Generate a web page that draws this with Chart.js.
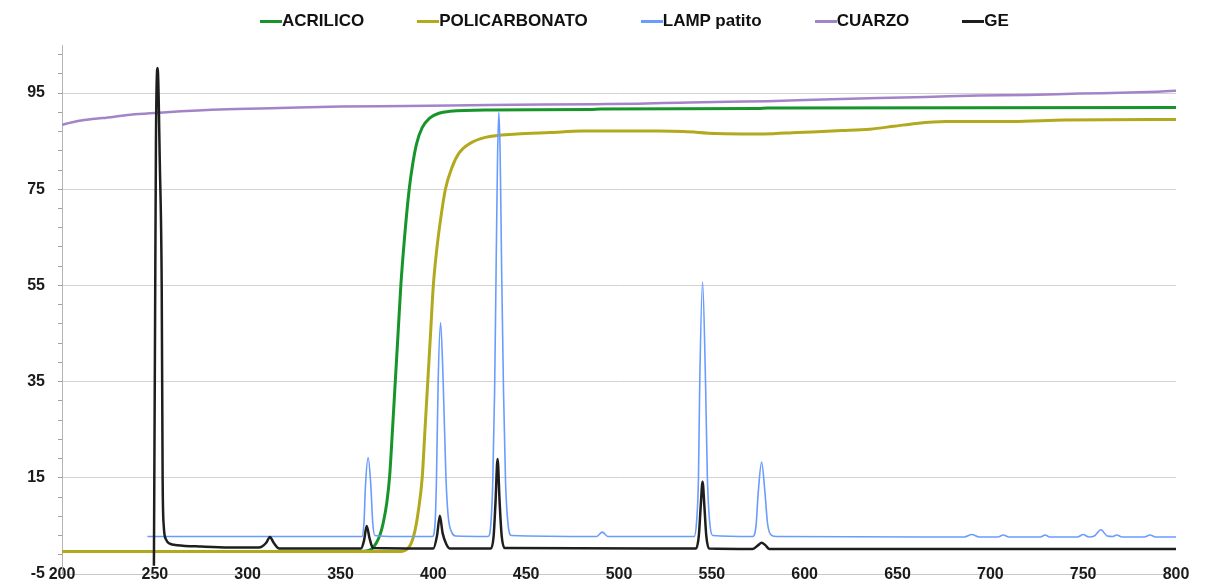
<!DOCTYPE html>
<html>
<head>
<meta charset="utf-8">
<title>Transmitancia</title>
<script src="https://cdn.jsdelivr.net/npm/chart.js@4.4.1/dist/chart.umd.min.js"></script>
<style>
  html, body { margin: 0; padding: 0; background: #fff; }
  #wrap { position: relative; width: 1210px; height: 587px; }
  #legend {
    position: absolute; left: 260px; top: 11px;
    display: flex; gap: 53px;
    font: bold 17px "Liberation Sans", Arial, sans-serif; color: #111;
  }
  .item { display: flex; align-items: center; }
  .swatch { width: 22px; height: 3px; }
</style>
</head>
<body>
<div id="wrap">
  <canvas id="chart"></canvas>
  <div id="legend"></div>
</div>
<script>
// ---- datos ----
const SERIES_NAMES = ["ACRILICO", "POLICARBONATO", "LAMP patito", "CUARZO", "GE"];
const SERIES_COLORS = ["#17952a", "#b2a91f", "#6a9cff", "#a484c8", "#1e1e1e"];

const Y_LABELS = [-5, 15, 35, 55, 75, 95];
const X_STEP = 50;

const ACRILICO_X = [200, 300, 360, 364, 367, 369.5, 371.5, 373, 375, 376.5, 378, 379.5, 381, 382.5, 384.5, 387, 389, 391, 394, 398, 403, 409, 430, 485, 490, 575, 580, 800];
const ACRILICO_Y = [-0.3, -0.3, -0.3, -0.2, 0.3, 1.6, 3.4, 5.6, 10, 15.5, 25, 35, 45, 55, 65, 75, 80.5, 84.5, 87.8, 89.8, 90.8, 91.2, 91.5, 91.6, 91.7, 91.8, 91.9, 92.0];

const POLI_X = [200, 300, 383, 386, 388, 390, 392, 394, 395.5, 397, 398.5, 400, 402, 404, 406.5, 410, 414, 420, 428, 445, 463, 480, 522, 535, 552, 578, 596, 620, 635, 648, 660, 676, 712, 740, 800];
const POLI_Y = [-0.3, -0.3, -0.3, 0.2, 1.3, 3.8, 8.3, 15, 25, 35, 45, 55, 63, 69, 75, 79.5, 82.6, 84.6, 85.8, 86.5, 86.8, 87.1, 87.1, 87.0, 86.6, 86.5, 86.8, 87.2, 87.5, 88.1, 88.7, 89.1, 89.1, 89.4, 89.5];

const LAMP_X = [246, 300, 350, 361.5, 362.7, 363.4, 364.9, 366.4, 367.3, 368.5, 380, 399.5, 401, 401.7, 402.6, 403.9, 405.3, 406.8, 408, 410, 412, 429.5, 431, 432, 433, 433.8, 434.6, 435.3, 436, 436.8, 437.8, 438.9, 440.2, 442, 488, 491, 494, 540.5, 541.8, 542.8, 543.5, 545, 546.6, 547.6, 548.8, 550.5, 572, 573.8, 575, 576.8, 578.6, 580, 582, 585, 686, 690, 694, 704, 707, 710, 727, 729.5, 732, 747, 750, 753, 756, 759.5, 763, 766, 768, 771, 783, 786, 789, 800];
const LAMP_Y = [2.8, 2.8, 2.8, 2.8, 6, 13, 19.2, 13, 6, 3.0, 2.8, 2.8, 6, 15, 35, 47.3, 35, 15, 7, 3.6, 2.9, 2.8, 5.5, 14, 33, 58, 82, 91, 82, 58, 33, 14, 5.5, 3.0, 2.8, 3.7, 2.8, 2.8, 6, 15, 35, 55.7, 35, 15, 6, 3.0, 2.8, 5, 12, 18.3, 12, 5.5, 3.1, 2.8, 2.7, 3.2, 2.7, 2.7, 3.1, 2.7, 2.7, 3.1, 2.7, 2.7, 3.2, 2.7, 2.9, 4.2, 2.9, 2.8, 3.1, 2.7, 2.7, 3.1, 2.7, 2.7];

const CUARZO_X = [200, 205, 212, 222, 237, 252, 264, 285, 317, 350, 385, 430, 487, 510, 533, 559, 580, 605, 640, 665, 694, 720, 748, 775, 790, 800];
const CUARZO_Y = [88.4, 88.9, 89.4, 89.8, 90.5, 90.9, 91.2, 91.6, 91.9, 92.2, 92.3, 92.5, 92.7, 92.8, 93.0, 93.2, 93.3, 93.6, 94.0, 94.2, 94.5, 94.6, 94.9, 95.1, 95.3, 95.5];

const GE_X = [249.5, 250.1, 250.6, 251.5, 252.7, 253.7, 254.2, 254.8, 256, 258, 262, 275, 290, 306, 310, 312, 314, 317, 361, 362.7, 364.1, 365.6, 367.5, 400, 402, 403.5, 405, 407, 409, 431, 432.5, 433.5, 434.6, 435.7, 436.8, 438.5, 541.5, 543, 544, 545, 546, 547, 548.5, 572, 575, 576.8, 578.8, 581, 650, 800];
const GE_Y = [-3.3, 45, 85, 100.2, 80, 55, 15, 5, 2.2, 1.3, 1.0, 0.7, 0.5, 0.5, 1.5, 2.7, 1.5, 0.3, 0.3, 2, 5, 2.5, 0.4, 0.3, 3, 7.1, 3.5, 1.2, 0.3, 0.3, 3, 10, 18.9, 10, 3, 0.4, 0.3, 3, 9, 14.2, 9, 3, 0.3, 0.2, 1.0, 1.5, 1.0, 0.2, 0.2, 0.2];

// ticks menores del eje Y (cada 4 unidades desde -5)
const Y_MINOR_TICKS = [];
for (let v = -5; v <= 104; v += 4) Y_MINOR_TICKS.push(v);

// ---- armado de datasets ----
function toPoints(xs, ys) {
  return xs.map((x, i) => ({ x: x, y: ys[i] }));
}

function makeDataset(idx, xs, ys, width, order) {
  return {
    label: SERIES_NAMES[idx],
    data: toPoints(xs, ys),
    borderColor: SERIES_COLORS[idx],
    backgroundColor: SERIES_COLORS[idx],
    borderWidth: width,
    pointRadius: 0,
    fill: false,
    cubicInterpolationMode: "monotone",
    order: order
  };
}

const FONT = { family: "'Liberation Sans', Arial, sans-serif", size: 16, weight: "bold" };

// leyenda en HTML
const legendEl = document.getElementById("legend");
SERIES_NAMES.forEach((name, i) => {
  const item = document.createElement("div");
  item.className = "item";
  item.innerHTML = `<span class="swatch" style="background:${SERIES_COLORS[i]}"></span><span>${name}</span>`;
  legendEl.appendChild(item);
});

new Chart(document.getElementById("chart"), {
  type: "line",
  data: {
    datasets: [
      makeDataset(0, ACRILICO_X, ACRILICO_Y, 3, 3),
      makeDataset(1, POLI_X, POLI_Y, 3, 2),
      makeDataset(2, LAMP_X, LAMP_Y, 1.6, 1),
      makeDataset(3, CUARZO_X, CUARZO_Y, 2.5, 4),
      makeDataset(4, GE_X, GE_Y, 2.5, 0)
    ]
  },
  options: {
    responsive: true,
    maintainAspectRatio: false,
    animation: false,
    layout: { padding: { top: 45, right: 34, bottom: 0, left: 0 } },
    plugins: {
      legend: { display: false },
      tooltip: { enabled: false }
    },
    scales: {
      x: {
        type: "linear",
        min: 200,
        max: 800,
        // etiquetas centradas sobre la linea inferior, como en el original
        afterFit: scale => { scale.height = 13; },
        ticks: { stepSize: X_STEP, mirror: true, padding: -10.6, color: "#1a1a1a", font: FONT, maxRotation: 0 },
        grid: { display: false, drawTicks: false },
        border: { display: true, color: "#c8c8c8" }
      },
      y: {
        type: "linear",
        min: -5,
        max: 105,
        afterBuildTicks: scale => {
          scale.ticks = Y_MINOR_TICKS.map(v => ({ value: v }));
        },
        afterFit: scale => {
          scale.width = 62;
          scale.paddingTop = 0;
          scale.paddingBottom = 0;
        },
        ticks: {
          autoSkip: false,
          padding: 13,
          color: "#1a1a1a",
          font: FONT,
          callback: v => (Y_LABELS.includes(v) ? String(v) : "")
        },
        grid: {
          color: ctx => (ctx.tick && Y_LABELS.includes(ctx.tick.value) ? "#d2d2d2" : "rgba(0,0,0,0)"),
          tickColor: "#a0a0a0",
          tickLength: 4
        },
        border: { color: "#b4b4b4" }
      }
    }
  }
});
</script>
</body>
</html>
